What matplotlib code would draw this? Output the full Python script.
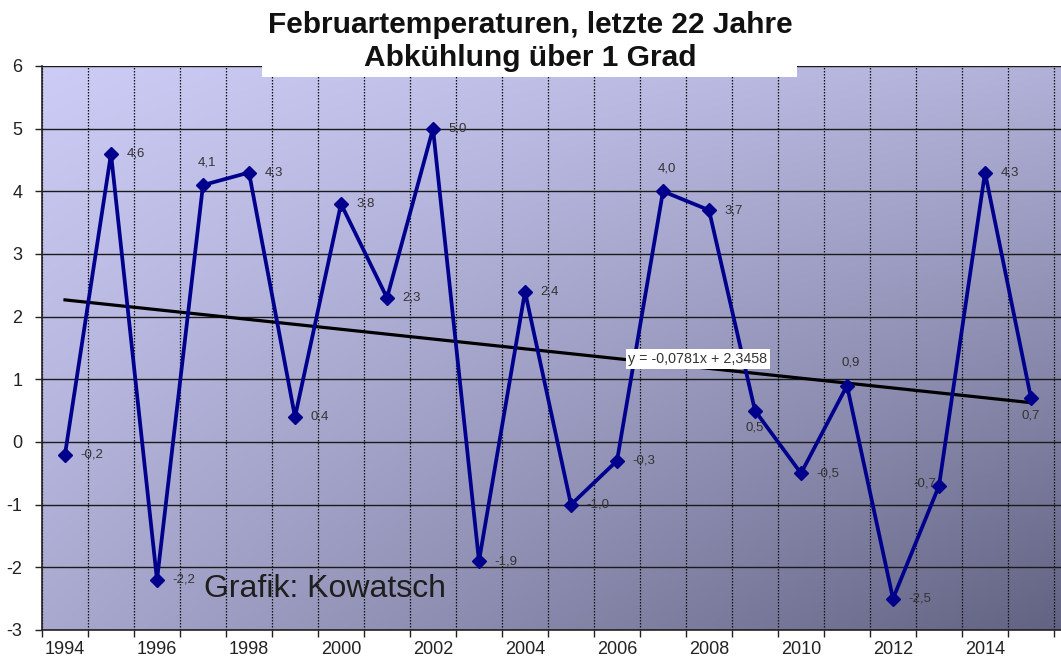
import numpy as np
import matplotlib
matplotlib.use("Agg")
import matplotlib.pyplot as plt
from matplotlib.patches import Rectangle

years = list(range(1994, 2016))
temps = [-0.2, 4.6, -2.2, 4.1, 4.3, 0.4, 3.8, 2.3, 5.0, -1.9, 2.4,
         -1.0, -0.3, 4.0, 3.7, 0.5, -0.5, 0.9, -2.5, -0.7, 4.3, 0.7]
# label placement per point: r = right, a = above, b = below, l = left
label_pos = ["r", "r", "r", "a", "r", "r", "r", "r", "r", "r", "r",
             "r", "r", "a", "r", "b", "r", "a", "r", "l", "r", "b"]
slope = -0.0781
intercept = 2.3458
eq_text = "y = -0,0781x + 2,3458"

plt.rcParams['font.family'] = ['Liberation Sans', 'DejaVu Sans']
plt.rcParams['axes.unicode_minus'] = False

fig = plt.figure(figsize=(10.61, 6.59), dpi=100)
ax = fig.add_axes([42 / 1061, 29 / 659, (1061 - 42) / 1061, (630 - 66) / 659])

n = len(years)
xs = np.arange(n)
ax.set_xlim(-0.5, n - 0.5 + 7 / 46)
ax.set_ylim(-3, 6)

# gradient background: light top-left, darkening mostly toward bottom-right
gx, gy = np.meshgrid(np.linspace(0, 1, 300), np.linspace(0, 1, 200))
f = 0.25 * gx + 0.33 * gy + 0.42 * gx * gy
c0 = np.array([204, 204, 246]) / 255
c1 = np.array([98, 98, 130]) / 255
img = c0[None, None, :] * (1 - f[..., None]) + c1[None, None, :] * f[..., None]
ax.imshow(img, extent=[0, 1, 0, 1], transform=ax.transAxes, aspect='auto',
          zorder=0, origin='upper')

# grid
ax.set_yticks(range(-3, 7))
ax.yaxis.grid(True, color='#1a1a1a', lw=1.0, zorder=1)
ax.set_xticks(xs[::2])
ax.set_xticklabels([str(y) for y in years[::2]])
ax.set_xticks(np.arange(n + 1) - 0.5, minor=True)
ax.xaxis.grid(True, which='minor', color='#111111', lw=0.9, ls=(0, (1.2, 1.2)), zorder=1)
ax.set_axisbelow(True)

ax.tick_params(axis='x', which='major', length=0, pad=8, labelsize=13, labelcolor='#222222')
ax.tick_params(axis='x', which='minor', length=5, width=1, color='#222222')
ax.tick_params(axis='y', length=5, width=1, color='#222222', pad=9, labelsize=13,
               labelcolor='#222222')
for s in ['top', 'right']:
    ax.spines[s].set_visible(False)
ax.spines['left'].set_color('#222222')
ax.spines['bottom'].set_color('#222222')
ax.spines['left'].set_linewidth(1.2)
ax.spines['bottom'].set_linewidth(1.2)

# data series
ax.plot(xs, temps, color='#00008c', lw=2.7, marker='D', ms=7.5, zorder=4)

# trend line
trend = [slope * (i + 1) + intercept for i in xs]
ax.plot(xs, trend, color='black', lw=2.3, zorder=3)

# data labels
offsets = {"r": (11, 0, 'left', 'center'), "a": (3, 12, 'center', 'bottom'),
           "b": (0, -8, 'center', 'top'), "l": (-2, 2, 'right', 'center')}
for x, v, p in zip(xs, temps, label_pos):
    dx, dy, ha, va = offsets[p]
    ax.annotate(f"{v:.1f}".replace(".", ","), (x, v), xytext=(dx, dy),
                textcoords='offset points', ha=ha, va=va, fontsize=9.5,
                color='#333333', zorder=5)

# equation box
ax.text(13.76, 1.32, eq_text, fontsize=10.3, color='#333333', ha='center', va='center',
        zorder=6, bbox=dict(boxstyle='square,pad=0.2', fc='white', ec='none'))

# credit
ax.text(5.65, -2.34, "Grafik: Kowatsch", fontsize=23, color='#1e1e1e',
        ha='center', va='center', zorder=6)

# title with white box over plot area
fig.patches.append(Rectangle((262 / 1061, (659 - 77) / 659), (797 - 262) / 1061, 77 / 659,
                             transform=fig.transFigure, fc='white', ec='none', zorder=10))
fig.text(530 / 1061, 1 - 25 / 659, "Februartemperaturen, letzte 22 Jahre", fontsize=21.5,
         fontweight='bold', ha='center', va='center', color='#111111', zorder=11)
fig.text(530 / 1061, 1 - 58 / 659, "Abkühlung über 1 Grad", fontsize=21.5,
         fontweight='bold', ha='center', va='center', color='#111111', zorder=11)

fig.savefig("out.png", dpi=100)
